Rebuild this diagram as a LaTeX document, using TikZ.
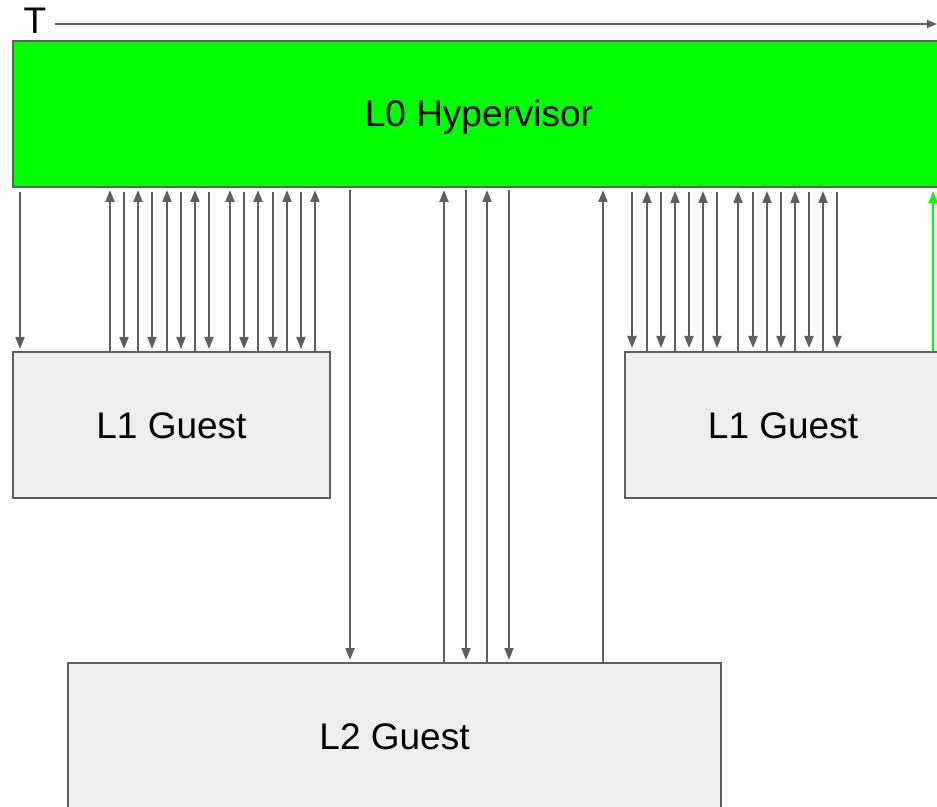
\documentclass[tikz,border=0pt]{standalone}
\usepackage{fontspec}
\setmainfont{Liberation Sans}
\usetikzlibrary{arrows.meta}

\definecolor{linegray}{RGB}{95,95,95}
\definecolor{boxgray}{RGB}{238,238,238}
\definecolor{hvgreen}{RGB}{0,255,0}

\begin{document}
\begin{tikzpicture}[x=0.5pt, y=-0.5pt,
  every node/.style={font=\fontsize{18.5}{22}\selectfont},
  layer/.style={draw=linegray, line width=1pt, rectangle, fill=boxgray, minimum height=73pt, text height=13pt, text depth=0pt},
  arr/.style={draw=linegray, line width=1pt, -{Triangle[width=4.5pt,length=6pt]}}]
\useasboundingbox (0,0) rectangle (937,807);
\clip (0,0) rectangle (937,807);

\node (t) at (35,21) {T};
\coordinate (tend) at (937,24);
\draw[draw=linegray, line width=0.8pt, -{Triangle[width=4pt,length=5pt]}] (t.east |- tend) ++(2,0) -- (tend);

\node (l0) [layer, fill=hvgreen, minimum width=466pt] at (479,114) {L0 Hypervisor};
\node (l1a) [layer, minimum width=158.5pt] at (171.5,425) {L1 Guest};
\node (l1b) [layer, minimum width=158.5pt] at (783,425) {L1 Guest};
\node (l2) [layer, minimum width=326.5pt] at (394.5,736) {L2 Guest};

% L0 <-> first L1
\foreach \x in {20,124,152,181,209,244,273,301}
  \draw[arr, shorten <=2pt, shorten >=1pt] (l0.south -| \x,0) -- (l1a.north -| \x,0);
\foreach \x in {110,138,167,195,230,258,287,315}
  \draw[arr, shorten <=-1pt, shorten >=1pt] (l1a.north -| \x,0) -- (l0.south -| \x,0);

% L0 <-> second L1
\foreach \x in {632,661,689,717,753,781,809,837}
  \draw[arr, shorten <=2pt, shorten >=1.5pt] (l0.south -| \x,0) -- (l1b.north -| \x,0);
\foreach \x in {647,675,703,738,767,795,823}
  \draw[arr, shorten <=-1pt, shorten >=1.5pt] (l1b.north -| \x,0) -- (l0.south -| \x,0);

% L0 <-> L2
\foreach \x in {350,466,509}
  \draw[arr, shorten <=1pt, shorten >=1pt] (l0.south -| \x,0) -- (l2.north -| \x,0);
\foreach \x in {444,487,603}
  \draw[arr, shorten <=-1pt, shorten >=1pt] (l2.north -| \x,0) -- (l0.south -| \x,0);

\draw[arr, draw=hvgreen, -{Triangle[width=4.5pt,length=6pt,fill=hvgreen]}, shorten >=1.5pt] (l1b.north -| 933,0) -- (l0.south -| 933,0);
\end{tikzpicture}
\end{document}
